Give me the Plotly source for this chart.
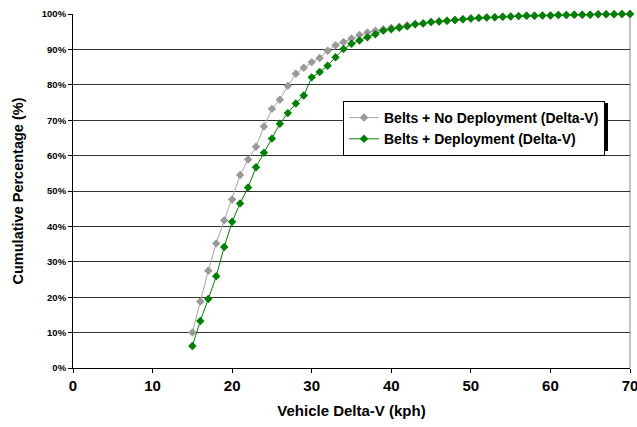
import plotly.graph_objects as go

delta_v = list(range(15, 71))

no_deploy = [10.0, 18.8, 27.5, 35.2, 41.7, 47.6, 54.5, 58.9, 62.5, 68.2,
             73.2, 75.8, 79.7, 83.1, 84.8, 86.4, 87.6, 89.6, 91.2, 92.1,
             93.1, 94.1, 94.8, 95.3, 95.7, 96.1, 96.4, 96.8, 97.2, 97.4,
             97.8, 97.9, 98.1, 98.3, 98.5, 98.7, 98.9, 99.0, 99.1, 99.2,
             99.3, 99.4, 99.5, 99.5, 99.6, 99.6, 99.7, 99.7, 99.8, 99.8,
             99.8, 99.9, 99.9, 99.9, 100.0, 100.0]

deploy = [6.2, 13.3, 19.5, 25.9, 34.2, 41.3, 46.5, 51.0, 56.7, 60.8,
          64.8, 69.0, 72.0, 74.7, 77.0, 82.1, 83.6, 85.4, 87.8, 90.1,
          91.6, 92.5, 93.4, 94.3, 95.3, 95.7, 96.1, 96.5, 97.1, 97.3,
          97.7, 97.9, 98.1, 98.3, 98.5, 98.7, 98.9, 99.0, 99.1, 99.2,
          99.3, 99.4, 99.5, 99.5, 99.6, 99.6, 99.7, 99.7, 99.8, 99.8,
          99.8, 99.9, 99.9, 99.9, 100.0, 100.0]

series_names = ["Belts + No Deployment (Delta-V)", "Belts + Deployment (Delta-V)"]
x_ticks = [0, 10, 20, 30, 40, 50, 60, 70]
y_ticks = [0, 10, 20, 30, 40, 50, 60, 70, 80, 90, 100]
y_tick_labels = ["0%", "10%", "20%", "30%", "40%", "50%", "60%", "70%", "80%", "90%", "100%"]

FONT = "Liberation Sans, Arial, sans-serif"

fig = go.Figure()
fig.add_trace(go.Scatter(
    x=delta_v, y=no_deploy, name=series_names[0], mode="lines+markers",
    line=dict(color="#a6a6a6", width=1),
    marker=dict(symbol="diamond", size=6.5, color="#999999"),
    cliponaxis=False,
))
fig.add_trace(go.Scatter(
    x=delta_v, y=deploy, name=series_names[1], mode="lines+markers",
    line=dict(color="#008000", width=1),
    marker=dict(symbol="diamond", size=6.5, color="#008000"),
    cliponaxis=False,
))

# right border of plot area
fig.add_shape(type="line", xref="x domain", yref="y domain", x0=1, x1=1, y0=0, y1=1,
              line=dict(color="#b0b0b0", width=1.5), layer="below")

# legend shadow (paper coords)
def px_x(p):
    return (p - 73) / 557.0

def px_y(p):
    return (368 - p) / 354.0

fig.add_shape(type="rect", xref="paper", yref="paper",
              x0=px_x(346), x1=px_x(608), y0=px_y(103), y1=px_y(151),
              fillcolor="black", line=dict(width=0), layer="above")

fig.update_layout(
    width=637, height=427,
    margin=dict(l=73, r=7, t=14, b=59),
    paper_bgcolor="white", plot_bgcolor="white",
    font=dict(family=FONT, color="black"),
    showlegend=True,
    legend=dict(
        x=px_x(605), xanchor="right", y=px_y(101), yanchor="top",
        bgcolor="white", bordercolor="black", borderwidth=1,
        font=dict(family=FONT, size=14, weight="bold", color="black"),
        tracegroupgap=0, itemwidth=30,
    ),
    xaxis=dict(
        range=[0, 70], tickvals=x_ticks, showgrid=False, zeroline=False,
        showline=True, linecolor="black", linewidth=1,
        ticks="outside", ticklen=4, tickcolor="black",
        ticklabeloverflow="allow", automargin=False,
        tickfont=dict(family=FONT, size=15, weight="bold"),
        title=dict(text="Vehicle Delta-V (kph)",
                   font=dict(family=FONT, size=15, weight="bold"), standoff=12),
    ),
    yaxis=dict(
        range=[0, 100], tickmode="array", tickvals=y_ticks, ticktext=y_tick_labels,
        showgrid=True, gridcolor="#333333", gridwidth=1, zeroline=False,
        showline=True, linecolor="black", linewidth=1,
        ticks="outside", ticklen=4, tickcolor="black",
        tickfont=dict(family=FONT, size=9.5, weight="bold"),
        title=dict(text="Cumulative Percentage (%)",
                   font=dict(family=FONT, size=14.5, weight="bold"), standoff=14),
    ),
)

fig.write_html("out.html")
